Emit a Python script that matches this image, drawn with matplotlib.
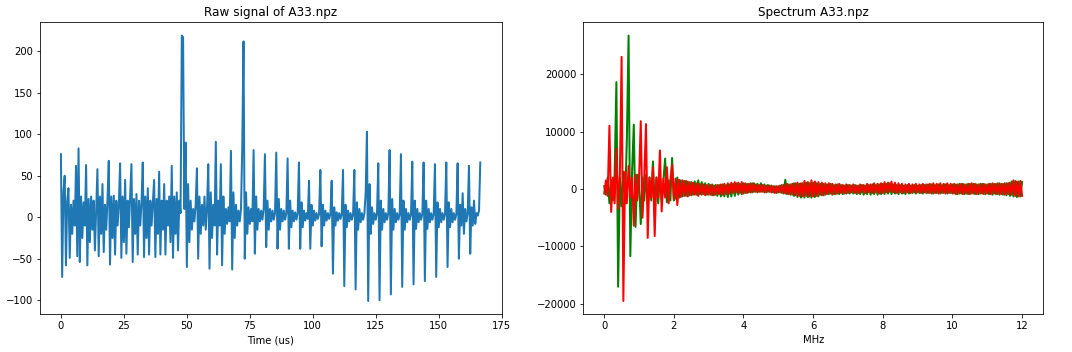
import numpy as np
import matplotlib
matplotlib.use("Agg")
import matplotlib.pyplot as plt

raw_dt_us = 0.5
raw_values = [
    76, -72, 30, 50, -58, 20, 35, -49, 15, -20,
    20, -10, 62, -47, 83, -54, 25, -25, 18, -10,
    63, -58, 22, -30, 25, -15, 20, -40, 10, 58,
    -47, 25, -20, 40, -42, 15, -15, 22, 68, -57,
    25, -25, 26, -45, 20, -10, 15, 65, -49, 25,
    -30, 45, -44, 20, -12, 25, 64, -54, 22, -20,
    28, -45, 20, -10, 18, 66, -48, 25, -25, 35,
    -45, 20, -10, 18, 45, -48, 22, -20, 55, -45,
    20, -15, 40, -45, 20, -10, 25, -30, 62, -49,
    25, -20, 30, -40, 20, 5, 219, 217, 10, 90,
    -60, 40, -30, 20, -15, 10, -5, 15, 59, -50,
    25, -20, 15, -10, 25, -15, 10, 64, -62, 30,
    -25, 15, -10, 91, -45, 20, -10, 64, -58, 25,
    -20, 10, -8, 12, -5, 80, -63, 30, -25, 15,
    -10, 8, -5, 10, 85, 212, -50, 30, -20, 12,
    -8, 10, -5, 81, -44, 25, -15, 10, -5, 8,
    -3, 10, 76, -36, 20, -15, 10, -5, 8, -3,
    5, 78, -38, 22, -15, 10, -5, 8, -3, 5,
    71, -38, 20, -12, 8, -5, 6, -3, 5, 66,
    -38, 18, -12, 8, -4, 5, -2, 44, -38, 15,
    -10, 8, -4, 5, -2, 4, 57, -35, 15, -10,
    8, -4, 5, -2, 4, 44, -68, 12, -10, 6,
    -4, 5, -2, 4, 57, -83, 15, -12, 8, -5,
    5, -3, 4, 57, -87, 18, -15, 10, -6, 5,
    -3, 5, 30, 103, -101, 40, -20, 12, -8, 5,
    -3, 5, 65, -100, 20, -15, 10, -6, 5, -3,
    5, 81, -93, 22, -15, 10, -6, 5, -3, 4,
    76, -84, 20, -15, 10, -6, 5, -3, 4, 67,
    -81, 20, -14, 10, -6, 5, -3, 4, 66, -77,
    20, -14, 10, -6, 5, -3, 4, 64, -72, 18,
    -12, 10, -6, 5, -3, 4, 66, -60, 18, -12,
    10, -6, 5, -3, 4, 65, -50, 15, -10, 29,
    -20, 10, -5, 5, 62, -44, 12, -10, 20, -8,
    5, 2, 8, 66,
]

# ---- Spectrum (every 0.05 MHz from 0 to 12 MHz) ----
spec_df_mhz = 0.05
spectrum_green = [
    500, -1000, 2000, -2500, 1500, -2000, 2500, 18600, -17000, 2000,
    -3000, 3000, -2500, 8500, 26700, -11700, 3000, 11200, -6600, 2500,
    1500, -6100, 2000, -2000, 2500, -3000, 2000, -2000, 4800, -3000,
    2000, -2500, 2000, -2000, 1500, 5300, -2300, 1500, -2000, 5400,
    -2000,
    -1500, 2000, -1500, 1500, -1300, 1400, -1200, 1300, -1100, 1200,
    -1000, 1300, -1000, 1500, -900, 1200, -900, 1000, -1000, 900,
    -1000, 800, -1100, 700, -1200, 700, -1300, 800, -1300, 700,
    -1400, 800, -1300, 900, -1200, 1000, -1000, 900, -900, 1000,
    -700, 900, -600, 1000, -600, 1000, -500, 900, -500, 1000,
    -500, 800, -600, 700, -500, 600, -600, 500, -700, 500,
    -600, 700, -800, 1600, -900, 800, -1000, 900, -1200, 1000,
    -1400, 900, -1500, 1000, -1500, 1100, -1400, 1000, -1500, 1100,
    -1400, 1000, -1300, 900, -1100, 900, -1000, 800, -900, 900,
    -1000, 700, -900, 800, -900, 700, -900, 600, -800, 700,
    -800, 600, -800, 700, -900, 600, -900, 700, -1000, 600,
    -900, 700, -1000, 800, -900, 700, -1000, 800, -900, 900,
    -900, 900, -800, 1000, -900, 800, -800, 700, -900, 700,
    -800, 600, -900, 700, -800, 600, -700, 700, -800, 600,
    -700, 700, -800, 700, -700, 800, -700, 800, -800, 700,
    -700, 800, -800, 700, -700, 800, -800, 700, -700, 800,
    -800, 800, -900, 900, -800, 900, -900, 800, -900, 900,
    -800, 900, -900, 800, -900, 900, -800, 900, -900, 800,
    -900, 900, -1000, 900, -900, 1000, -1000, 900, -1000, 1000,
    -1100, 1000, -1200, 1300, -1300, 1400, -1400, 1300, -1300, 1200,
]
spectrum_red = [
    -800, 1500, -1200, 11000, -4000, 2000, -2500, 7000, -3500, 2500,
    23000, -19500, 3000, -2500, 4000, -1500, 2000, -6400, 2500, -2000,
    1500, 11800, -5000, 2000, 11300, -8500, 2000, -1500, 3800, -8200,
    2000, -1500, 6700, -3900, 1800, -1500, 3800, -2500, 1500, 4200,
    -1800,
    1800, -2800, 1600, -1400, 1500, -1200, 1400, -1300, 1200, -1100,
    1100, -1000, 1000, -1200, 900, -1000, 800, -1100, 700, -1000,
    700, -1100, 600, -1000, 700, -900, 800, -1000, 900, -900,
    1000, -800, 1100, -700, 1200, -600, 1100, -700, 1200, -800,
    1000, -700, 900, -600, 1000, -500, 800, -600, 700, -500,
    700, -600, 600, -500, 600, -600, 500, -700, 500, -600,
    600, -700, 700, -800, 900, -900, 800, -1000, 1000, -1100,
    1100, -1200, 1000, -1300, 1400, -1200, 1200, -1300, 1500, -1300,
    1300, -1200, 1200, -1000, 1100, -1100, 1000, -900, 1000, -800,
    900, -900, 800, -800, 900, -700, 700, -800, 800, -700,
    700, -600, 800, -700, 600, -700, 800, -600, 700, -700,
    900, -600, 800, -700, 1000, -600, 900, -800, 1000, -700,
    1200, -600, 1100, -500, 1300, -600, 1100, -700, 1000, -600,
    900, -700, 800, -600, 900, -700, 800, -600, 900, -600,
    800, -700, 900, -600, 800, -700, 900, -800, 1000, -700,
    900, -800, 1000, -700, 900, -800, 1000, -700, 900, -800,
    900, -900, 800, -800, 900, -900, 800, -800, 900, -900,
    1000, -800, 900, -900, 800, -800, 900, -900, 800, -800,
    900, -900, 1000, -800, 900, -900, 1000, -900, 900, -1000,
    1000, -900, 1100, -1000, 1500, -1200, 1300, -1300, 1400, -1200,
]

raw_title = "Raw signal of A33.npz"
spec_title = "Spectrum A33.npz"
raw_xlabel = "Time (us)"
spec_xlabel = "MHz"

t_us = np.arange(len(raw_values)) * raw_dt_us
f_mhz = np.arange(len(spectrum_red)) * spec_df_mhz

fig = plt.figure(figsize=(1072 / 72, 352 / 72), dpi=72)
ax1 = fig.add_axes([40 / 1072, 1 - 314.3 / 352, 461.7 / 1072, 292 / 352])
ax2 = fig.add_axes([583.3 / 1072, 1 - 314.3 / 352, 459.7 / 1072, 292 / 352])

ax1.plot(t_us, raw_values, color="#1f77b4", linewidth=2.0)
ax1.set_title(raw_title)
ax1.set_xlabel(raw_xlabel)
ax1.set_xticks([0, 25, 50, 75, 100, 125, 150, 175])
ax1.set_xlim(-8.3, 175)
ax1.set_yticks([-100, -50, 0, 50, 100, 150, 200])

ax2.plot(f_mhz, spectrum_green, color="green", linewidth=2.0)
ax2.plot(f_mhz, spectrum_red, color="red", linewidth=2.0)
ax2.set_title(spec_title)
ax2.set_xlabel(spec_xlabel)
ax2.set_xticks([0, 2, 4, 6, 8, 10, 12])
ax2.set_yticks([-20000, -10000, 0, 10000, 20000])

fig.savefig("out.png", dpi=72, facecolor="white")
